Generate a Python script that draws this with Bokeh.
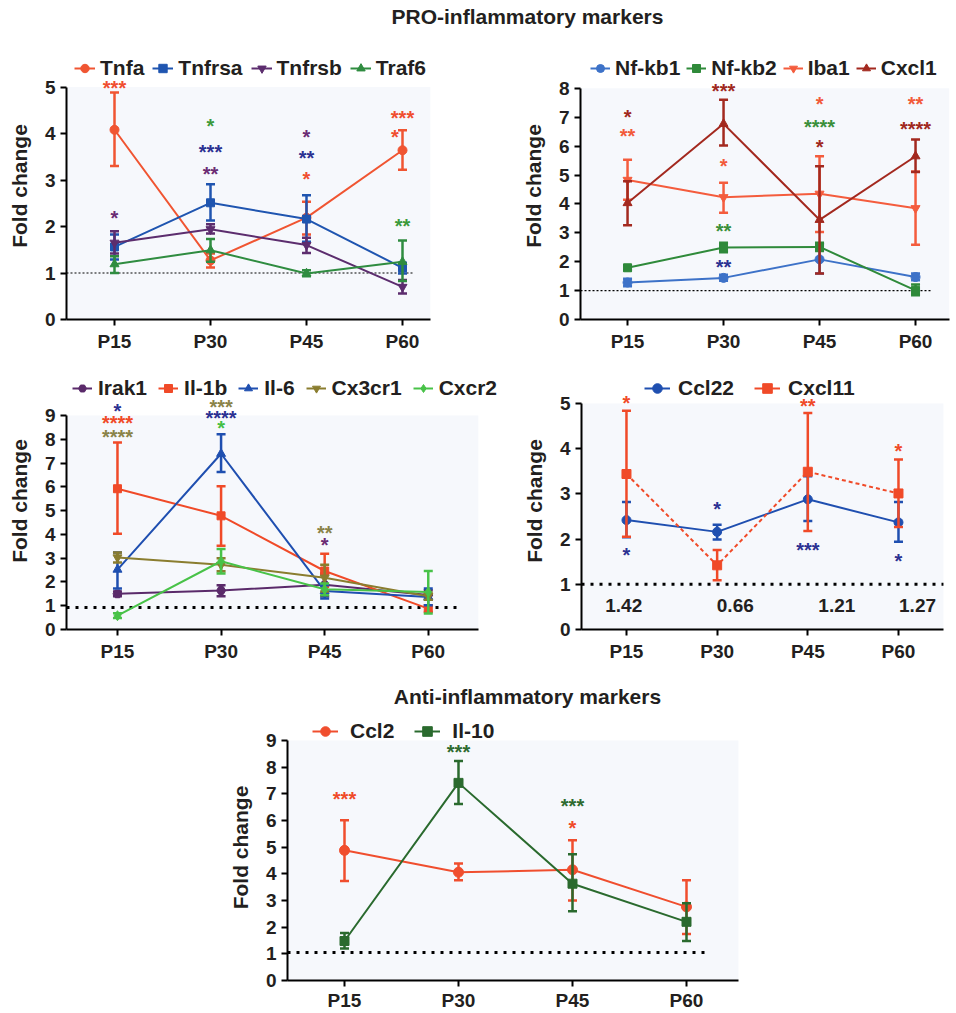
from bokeh.plotting import figure
from bokeh.models import ColumnDataSource, FixedTicker, BoxAnnotation, Legend, LegendItem, Range1d
from bokeh.layouts import column, row
from bokeh.embed import file_html
from bokeh.resources import INLINE
from bokeh.core.properties import value

# ---------------- data ----------------
timepoints = ["P15", "P30", "P45", "P60"]
tp_x = [1, 2, 3, 4]

# Panel 1 (PRO-inflammatory)
tnfa_mean = [4.08, 1.27, 2.19, 3.64]
tnfa_lo = [3.30, 1.12, 1.83, 3.22]
tnfa_hi = [4.88, 1.42, 2.53, 4.07]
tnfrsa_mean = [1.56, 2.51, 2.16, 1.11]
tnfrsa_lo = [1.29, 2.13, 1.67, 0.99]
tnfrsa_hi = [1.83, 2.91, 2.67, 1.22]
tnfrsb_mean = [1.65, 1.94, 1.60, 0.70]
tnfrsb_lo = [1.42, 1.85, 1.43, 0.56]
tnfrsb_hi = [1.90, 2.05, 1.76, 0.85]
traf6_mean = [1.19, 1.49, 0.99, 1.24]
traf6_lo = [1.00, 1.24, 0.93, 0.83]
traf6_hi = [1.36, 1.73, 1.06, 1.70]
stars1_series = ["Tnfa", "Tnfrsb", "Traf6", "Tnfrsa", "Tnfrsb", "Tnfrsb", "Tnfrsa", "Tnfa", "Tnfa", "Tnfa", "Traf6"]
stars1_x = [1, 1, 2, 2, 2, 3, 3, 3, 4, 3.92, 4]
stars1_y = [5.04, 2.23, 4.21, 3.65, 3.19, 3.98, 3.52, 3.07, 4.39, 3.98, 2.06]
stars1_text = ["***", "*", "*", "***", "**", "*", "**", "*", "***", "*", "**"]

# Panel 2
nfkb1_mean = [1.28, 1.44, 2.08, 1.47]
nfkb1_lo = [1.15, 1.34, 1.59, 1.36]
nfkb1_hi = [1.41, 1.55, 2.60, 1.59]
nfkb2_mean = [1.79, 2.49, 2.51, 1.01]
nfkb2_lo = [1.70, 2.33, 2.37, 0.84]
nfkb2_hi = [1.88, 2.66, 2.66, 1.21]
iba1_mean = [4.83, 4.23, 4.35, 3.85]
iba1_lo = [4.14, 3.69, 3.03, 2.59]
iba1_hi = [5.53, 4.73, 5.65, 5.12]
cxcl1_mean = [4.03, 6.77, 3.45, 5.65]
cxcl1_lo = [3.26, 6.02, 1.59, 5.10]
cxcl1_hi = [4.78, 7.60, 5.30, 6.23]
stars2_series = ["Cxcl1", "Iba1", "Cxcl1", "Iba1", "Nf-kb2", "Nf-kb1", "Iba1", "Nf-kb2", "Cxcl1", "Iba1", "Cxcl1"]
stars2_x = [1, 1, 2, 2, 2, 2, 3, 3, 3, 4, 4]
stars2_y = [7.09, 6.42, 8.01, 5.39, 3.14, 1.91, 7.54, 6.74, 6.04, 7.54, 6.69]
stars2_text = ["*", "**", "***", "*", "**", "**", "*", "****", "*", "**", "****"]

# Panel 3
irak1_mean = [1.50, 1.64, 1.88, 1.45]
irak1_lo = [1.40, 1.40, 1.40, 1.25]
irak1_hi = [1.60, 1.86, 2.35, 1.65]
il1b_mean = [5.92, 4.78, 2.46, 0.88]
il1b_lo = [4.03, 3.52, 1.79, 0.74]
il1b_hi = [7.86, 6.02, 3.19, 1.02]
il6_mean = [2.52, 7.39, 1.62, 1.37]
il6_lo = [1.72, 6.62, 1.30, 1.02]
il6_hi = [3.24, 8.21, 1.86, 1.72]
cx3cr1_mean = [3.03, 2.72, 2.18, 1.40]
cx3cr1_lo = [2.82, 2.45, 1.60, 1.25]
cx3cr1_hi = [3.24, 3.00, 2.72, 1.55]
cxcr2_mean = [0.58, 2.87, 1.69, 1.58]
cxcr2_lo = [0.48, 2.35, 1.44, 0.67]
cxcr2_hi = [0.68, 3.38, 1.93, 2.46]
stars3_series = ["Il-6", "Il-1b", "Cx3cr1", "Cx3cr1", "Il-6", "Cxcr2", "Cx3cr1", "Irak1"]
stars3_x = [1, 1, 1, 2, 2, 2, 3, 3]
stars3_y = [9.31, 8.77, 8.20, 9.45, 9.00, 8.56, 4.17, 3.65]
stars3_text = ["*", "****", "****", "***", "****", "*", "**", "*"]

# Panel 4
ccl22_mean = [2.42, 2.16, 2.88, 2.37]
ccl22_lo = [2.04, 1.99, 2.40, 1.94]
ccl22_hi = [2.82, 2.32, 3.39, 2.82]
cxcl11_mean = [3.44, 1.42, 3.49, 3.01]
cxcl11_lo = [2.05, 1.09, 2.18, 2.27]
cxcl11_hi = [4.84, 1.76, 4.79, 3.76]
stars4_series = ["Cxcl11", "Ccl22", "Ccl22", "Cxcl11", "Ccl22", "Cxcl11", "Ccl22"]
stars4_x = [1, 1, 2, 3, 3, 4, 4]
stars4_y = [5.06, 1.70, 2.73, 5.01, 1.81, 4.00, 1.57]
stars4_text = ["*", "*", "*", "**", "***", "*", "*"]
ratio_text = ["1.42", "0.66", "1.21", "1.27"]
ratio_x = [0.97, 2.20, 3.32, 4.21]
ratio_y = [0.54, 0.54, 0.54, 0.54]

# Panel 5 (Anti-inflammatory)
ccl2_mean = [4.88, 4.06, 4.15, 2.76]
ccl2_lo = [3.73, 3.76, 3.00, 1.74]
ccl2_hi = [6.01, 4.39, 5.26, 3.76]
il10_mean = [1.48, 7.41, 3.63, 2.20]
il10_lo = [1.20, 6.62, 2.60, 1.48]
il10_hi = [1.78, 8.23, 4.73, 2.90]
stars5_series = ["Ccl2", "Il-10", "Il-10", "Ccl2"]
stars5_x = [1, 2, 3, 3]
stars5_y = [6.90, 8.66, 6.65, 5.80]
stars5_text = ["***", "***", "***", "*"]

# ---------------- styles ----------------
LINE_COL = {
    "Tnfa": "#f05532", "Tnfrsa": "#1f55b0", "Tnfrsb": "#5c2d6e", "Traf6": "#2f8c40",
    "Nf-kb1": "#3d72c8", "Nf-kb2": "#2f8a3a", "Iba1": "#f45c3d", "Cxcl1": "#a3291f",
    "Irak1": "#5a2a6a", "Il-1b": "#f04a28", "Il-6": "#1f4fb0", "Cx3cr1": "#8a7d2f", "Cxcr2": "#48c248",
    "Ccl22": "#1f4fb0", "Cxcl11": "#f04a28", "Ccl2": "#f04e2e", "Il-10": "#2a6a2e",
}
STAR_COL = {
    "Tnfa": "#f04e30", "Tnfrsa": "#2b3192", "Tnfrsb": "#6b2c74", "Traf6": "#3b9a3b",
    "Nf-kb1": "#2b3192", "Nf-kb2": "#3a8f3a", "Iba1": "#f25a3a", "Cxcl1": "#a0281e",
    "Irak1": "#6b2c74", "Il-1b": "#f04a28", "Il-6": "#2b3192", "Cx3cr1": "#8a8348", "Cxcr2": "#44c044",
    "Ccl22": "#2b3192", "Cxcl11": "#f04a28", "Ccl2": "#f04a28", "Il-10": "#2e6b30",
}
FONT = "Liberation Sans"
TXT = "#231f20"
BG = "#f6f8fc"


def title_fig(w, h, text, x, y):
    t = figure(width=w, height=h, x_range=Range1d(0, w), y_range=Range1d(0, h),
               x_axis_type=None, y_axis_type=None, output_backend="svg",
               toolbar_location=None, min_border=0)
    t.grid.visible = False
    t.outline_line_color = None
    t.text(x=[x], y=[y], text=[text], text_font=value(FONT), text_font_style="bold",
           text_font_size="21px", text_color=TXT, text_align="center", text_baseline="middle")
    return t


def panel(w, h, bl, br, bt, bb, xs, ppx, ppy, ax_end, ymax, series, stars,
          ref_y, ref_end, thin_ref, leg, x_standoff=5):
    fw = w - bl - br
    fh = h - bt - bb
    p = figure(width=w, height=h, x_range=Range1d(xs, xs + fw / ppx), y_range=Range1d(0, fh / ppy),
               output_backend="svg", toolbar_location=None,
               min_border_left=bl, min_border_right=br, min_border_top=bt, min_border_bottom=bb)
    p.background_fill_color = "white"
    p.border_fill_color = "white"
    p.outline_line_color = None
    p.grid.visible = False
    p.add_layout(BoxAnnotation(left=xs, right=ax_end, bottom=0, top=ymax, fill_color=BG,
                               fill_alpha=1, line_alpha=0, level="underlay"))

    xa = p.xaxis[0]
    xa.ticker = FixedTicker(ticks=tp_x)
    xa.major_label_overrides = {k: v for k, v in zip(tp_x, timepoints)}
    xa.bounds = (xs, ax_end)
    ya = p.yaxis[0]
    ya.ticker = FixedTicker(ticks=list(range(0, ymax + 1)))
    ya.bounds = (0, ymax)
    ya.axis_label = "Fold change"
    ya.axis_label_text_font = FONT
    ya.axis_label_text_font_style = "bold"
    ya.axis_label_text_font_size = "21px"
    ya.axis_label_text_color = TXT
    ya.axis_label_standoff = 11
    for ax in (xa, ya):
        ax.axis_line_width = 2
        ax.axis_line_color = "black"
        ax.major_tick_line_width = 2
        ax.major_tick_line_color = "black"
        ax.major_tick_out = 6
        ax.major_tick_in = 0
        ax.minor_tick_line_color = None
        ax.major_label_text_font = FONT
        ax.major_label_text_font_style = "bold"
        ax.major_label_text_font_size = "19px"
        ax.major_label_text_color = TXT
    xa.major_label_standoff = x_standoff
    ya.major_label_standoff = 5

    # reference line
    if thin_ref:
        p.segment(x0=[xs], y0=[ref_y], x1=[ref_end], y1=[ref_y], line_color="black",
                  line_width=1.2, line_dash="2 2")
    else:
        p.segment(x0=[xs], y0=[ref_y], x1=[ref_end], y1=[ref_y], line_color="black",
                  line_width=3, line_dash="3 6")

    items = []
    for name, mean, lo, hi, marker, msize, dash in series:
        col = LINE_COL[name]
        src = ColumnDataSource(dict(x=tp_x, y=mean, lo=lo, hi=hi))
        ln = p.line("x", "y", source=src, line_color=col, line_width=2, line_dash=dash)
        p.segment(x0="x", y0="lo", x1="x", y1="hi", source=src, line_color=col, line_width=2.5)
        p.scatter("x", "lo", source=src, marker="dash", size=9, line_color=col, line_width=2.5)
        p.scatter("x", "hi", source=src, marker="dash", size=9, line_color=col, line_width=2.5)
        sc = p.scatter("x", "y", source=src, marker=marker, size=msize, fill_color=col, line_color=col)
        if dash != "solid":
            # solid key line for the legend only (a single point draws nothing in the plot)
            ln = p.line(x=tp_x[:1], y=mean[:1], line_color=col, line_width=2)
        items.append(LegendItem(label=name, renderers=[ln, sc]))

    sn, sx, sy, stx = stars
    ssrc = ColumnDataSource(dict(x=sx, y=sy, text=stx, color=[STAR_COL[n] for n in sn]))
    p.text("x", "y", text="text", source=ssrc, text_color="color", text_font=value(FONT),
           text_font_style="bold", text_font_size="20px", text_align="center",
           text_baseline="middle", y_offset=2.5)

    vx, vy, gw, stand, spacing = leg
    legend = Legend(items=items, orientation="horizontal", location=(vx, vy),
                    glyph_width=gw, glyph_height=24, label_height=24, label_standoff=stand,
                    spacing=spacing, padding=0, margin=0, border_line_alpha=0,
                    background_fill_alpha=0, label_text_font=FONT, label_text_font_style="bold",
                    label_text_font_size="21px", label_text_color=TXT)
    p.add_layout(legend)
    return p


t1 = title_fig(956, 46, "PRO-inflammatory markers", 485, 30)

p1 = panel(500, 314, 66, 0, 6, 41, 0.5, 96.0, 46.5, 4.29, 5,
           [("Tnfa", tnfa_mean, tnfa_lo, tnfa_hi, "circle", 9, "solid"),
            ("Tnfrsa", tnfrsa_mean, tnfrsa_lo, tnfrsa_hi, "square", 8, "solid"),
            ("Tnfrsb", tnfrsb_mean, tnfrsb_lo, tnfrsb_hi, "inverted_triangle", 9, "solid"),
            ("Traf6", traf6_mean, traf6_lo, traf6_hi, "triangle", 9, "solid")],
           (stars1_series, stars1_x, stars1_y, stars1_text),
           1.0, 4.125, True, (8, 239, 21, 5, 8))

p2 = panel(456, 314, 80, 0, 6, 41, 0.51, 96.0, 28.9, 4.35, 8,
           [("Nf-kb1", nfkb1_mean, nfkb1_lo, nfkb1_hi, "circle", 9, "solid"),
            ("Nf-kb2", nfkb2_mean, nfkb2_lo, nfkb2_hi, "square", 8, "solid"),
            ("Iba1", iba1_mean, iba1_lo, iba1_hi, "inverted_triangle", 9, "solid"),
            ("Cxcl1", cxcl1_mean, cxcl1_lo, cxcl1_hi, "triangle", 9, "solid")],
           (stars2_series, stars2_x, stars2_y, stars2_text),
           1.0, 4.156, True, (10, 239, 20, 5, 6))

p3 = panel(500, 308, 66, 0, 12, 39, 0.508, 103.6, 23.78, 4.483, 9,
           [("Irak1", irak1_mean, irak1_lo, irak1_hi, "hex", 9, "solid"),
            ("Il-1b", il1b_mean, il1b_lo, il1b_hi, "square", 8, "solid"),
            ("Il-6", il6_mean, il6_lo, il6_hi, "triangle", 9, "solid"),
            ("Cx3cr1", cx3cr1_mean, cx3cr1_lo, cx3cr1_hi, "inverted_triangle", 9, "solid"),
            ("Cxcr2", cxcr2_mean, cxcr2_lo, cxcr2_hi, "diamond", 10, "solid")],
           (stars3_series, stars3_x, stars3_y, stars3_text),
           0.93, 4.28, False, (6, 229, 20, 6, 11))

p4 = panel(456, 308, 81, 0, 12, 39, 0.504, 90.67, 45.2, 4.496, 5,
           [("Ccl22", ccl22_mean, ccl22_lo, ccl22_hi, "circle", 9, "solid"),
            ("Cxcl11", cxcl11_mean, cxcl11_lo, cxcl11_hi, "square", 9, "4 3")],
           (stars4_series, stars4_x, stars4_y, stars4_text),
           1.0, 4.496, False, (63, 229, 26, 8, 20))
p4.text(x=ratio_x, y=ratio_y, text=ratio_text, text_font=value(FONT), text_font_style="bold",
        text_font_size="19px", text_color=TXT, text_align="center", text_baseline="middle")

t2 = title_fig(956, 44, "Anti-inflammatory markers", 485, 16)

p5 = panel(956, 301, 287, 196, 2, 33, 0.5, 114.0, 26.67, 4.456, 9,
           [("Ccl2", ccl2_mean, ccl2_lo, ccl2_hi, "circle", 10, "solid"),
            ("Il-10", il10_mean, il10_lo, il10_hi, "square", 9, "solid")],
           (stars5_series, stars5_x, stars5_y, stars5_text),
           1.05, 4.19, False, (25, 237, 26, 12, 20), x_standoff=3)

layout = column(t1, row(p1, p2), row(p3, p4), t2, p5)
open("out.html", "w").write(file_html(layout, INLINE))
